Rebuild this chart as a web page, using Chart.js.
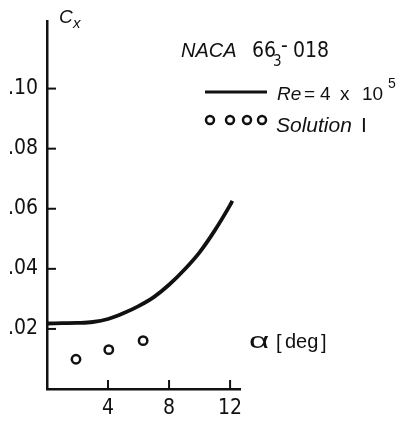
<!DOCTYPE html>
<html>
<head>
<meta charset="utf-8">
<script src="https://cdn.jsdelivr.net/npm/chart.js@4"></script>
<style>
  html, body { margin: 0; padding: 0; background: #fff; }
  #wrap { width: 396px; height: 421px; }
</style>
</head>
<body>
<div id="wrap"><canvas id="chart" width="396" height="421"></canvas></div>
<script>
// data
const alphaLine = [0, 1, 2, 3, 4, 5, 6, 7, 8, 9, 10, 11, 12, 12.15];
const cxLine = [0.0218, 0.0219, 0.0220, 0.0223, 0.0233, 0.0252, 0.0276, 0.0306, 0.0347, 0.0397, 0.0455, 0.0528, 0.0612, 0.0626];
const alphaSolution = [1.9, 4.05, 6.3];
const cxSolution = [0.0099, 0.0131, 0.0161];
const xTickValues = [4, 8, 12];
const yTickValues = [0.02, 0.04, 0.06, 0.08, 0.10];
const yTickLabels = [".02", ".04", ".06", ".08", ".10"];

const ink = "#111";
const narrow = '"Liberation Sans Narrow", "DejaVu Sans Condensed", sans-serif';
const sans = '"Liberation Sans", Arial, sans-serif';

// inward tick marks on both axes
const innerTicks = {
  id: "innerTicks",
  afterDraw(chart) {
    const ctx = chart.ctx;
    const xs = chart.scales.x, ys = chart.scales.y;
    ctx.save();
    ctx.strokeStyle = ink;
    ctx.lineWidth = 2;
    xTickValues.forEach(v => {
      const px = xs.getPixelForValue(v);
      ctx.beginPath();
      ctx.moveTo(px, ys.bottom);
      ctx.lineTo(px, ys.bottom - 9);
      ctx.stroke();
    });
    yTickValues.forEach(v => {
      const py = ys.getPixelForValue(v);
      ctx.beginPath();
      ctx.moveTo(xs.left, py);
      ctx.lineTo(xs.left + 9, py);
      ctx.stroke();
    });
    ctx.restore();
  }
};

// axis titles and the hand lettered legend
const labels = {
  id: "labels",
  afterDraw(chart) {
    const ctx = chart.ctx;
    ctx.save();
    ctx.fillStyle = ink;
    ctx.strokeStyle = ink;
    ctx.textBaseline = "alphabetic";

    // C_x
    ctx.font = "italic 19px " + sans;
    ctx.fillText("C", 59, 23);
    ctx.font = "italic 15px " + sans;
    ctx.fillText("x", 73, 28);

    // NACA 66_3 - 018
    ctx.font = "italic 20px " + sans;
    ctx.fillText("NACA", 181, 57);
    ctx.font = "21px " + narrow;
    ctx.fillText("66", 252, 57);
    ctx.fillText("-", 281, 52);
    ctx.fillText("018", 293, 57);
    ctx.font = "15px " + narrow;
    ctx.fillText("3", 273, 66);

    // solid line entry
    ctx.lineWidth = 3;
    ctx.beginPath();
    ctx.moveTo(205, 92);
    ctx.lineTo(267, 92);
    ctx.stroke();
    ctx.font = "italic 19px " + sans;
    ctx.fillText("Re", 277, 100);
    ctx.font = "19px " + sans;
    ctx.fillText("=", 304, 100);
    ctx.fillText("4", 320, 100);
    ctx.fillText("x", 340, 100);
    ctx.fillText("10", 362, 100);
    ctx.font = "14px " + sans;
    ctx.fillText("5", 388, 88);

    // circles entry
    ctx.lineWidth = 2.5;
    [210, 230, 247, 262].forEach(cx => {
      ctx.beginPath();
      ctx.arc(cx, 120, 4, 0, Math.PI * 2);
      ctx.stroke();
    });
    ctx.font = "italic 21px " + sans;
    ctx.fillText("Solution", 276, 132);
    ctx.font = "21px " + sans;
    ctx.fillText("I", 361, 132);

    // alpha [deg], the alpha is drawn wide like the lettering
    ctx.save();
    ctx.translate(249, 348);
    ctx.scale(1.6, 1);
    ctx.font = "22px " + sans;
    ctx.fillText("\u03b1", 0, 0);
    ctx.restore();
    ctx.font = "20px " + sans;
    ctx.fillText("[", 276, 349);
    ctx.fillText("deg", 285, 348);
    ctx.fillText("]", 321, 349);
    ctx.restore();
  }
};

new Chart(document.getElementById("chart"), {
  data: {
    datasets: [
      {
        type: "line",
        data: alphaLine.map((a, i) => ({ x: a, y: cxLine[i] })),
        borderColor: ink,
        borderWidth: 3.8,
        pointRadius: 0,
        cubicInterpolationMode: "monotone",
        fill: false
      },
      {
        type: "scatter",
        data: alphaSolution.map((a, i) => ({ x: a, y: cxSolution[i] })),
        borderColor: ink,
        backgroundColor: "#fff",
        borderWidth: 2.5,
        pointRadius: 4.2,
        pointStyle: "circle"
      }
    ]
  },
  options: {
    responsive: false,
    animation: false,
    events: [],
    layout: { padding: { left: 0, top: 10, right: 156, bottom: 0 } },
    plugins: { legend: { display: false }, tooltip: { enabled: false } },
    scales: {
      x: {
        type: "linear",
        min: 0,
        max: 12.65,
        grid: { display: false, drawTicks: false },
        border: { display: true, color: ink, width: 2.5 },
        afterBuildTicks: s => { s.ticks = xTickValues.map(v => ({ value: v })); },
        afterFit: s => { s.height = 32; },
        ticks: {
          color: ink,
          padding: 7,
          maxRotation: 0,
          font: { family: narrow, size: 21 },
          callback: v => String(v)
        }
      },
      y: {
        type: "linear",
        min: 0,
        max: 0.1223,
        grid: { display: false, drawTicks: false },
        border: { display: true, color: ink, width: 2.5 },
        afterBuildTicks: s => { s.ticks = yTickValues.map(v => ({ value: v })); },
        afterFit: s => { s.width = 47; },
        ticks: {
          color: ink,
          padding: 9,
          font: { family: narrow, size: 21 },
          callback: v => yTickLabels[yTickValues.findIndex(t => Math.abs(t - v) < 1e-6)]
        }
      }
    }
  },
  plugins: [innerTicks, labels]
});
</script>
</body>
</html>
